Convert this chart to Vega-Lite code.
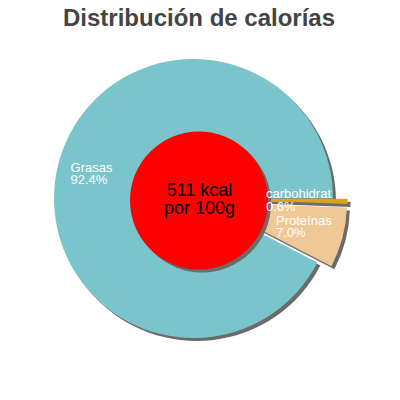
{
  "$schema": "https://vega.github.io/schema/vega-lite/v6.json",
  "width": 387,
  "height": 397,
  "autosize": "none",
  "padding": 0,
  "background": "white",
  "title": {
    "text": "Distribución de calorías",
    "font": "Liberation Sans",
    "fontSize": 24,
    "fontWeight": "bold",
    "color": "#444444",
    "anchor": "middle",
    "baseline": "alphabetic",
    "offset": -25,
    "dx": 5.5,
    "dy": 25
  },
  "config": {"view": {"stroke": null}},
  "layer": [
    {
      "data": {
        "values": [
          {"label": "Grasas", "value": 0.924},
          {"label": "carbohidratos", "value": 0.006},
          {"label": "Proteínas", "value": 0.07}
        ]
      },
      "encoding": {
        "theta": {
          "field": "value",
          "type": "quantitative",
          "stack": true,
          "scale": {"range": [1.5708, 7.854]}
        },
        "order": {"field": "label", "sort": "descending"}
      },
      "layer": [
        {
          "mark": {"type": "arc", "radius": 139.5, "fill": "#6b6b6b", "xOffset": 3, "yOffset": 3},
          "encoding": {
            "fillOpacity": {"condition": {"test": "datum.label === 'Grasas'", "value": 1}, "value": 0}
          }
        },
        {
          "mark": {"type": "arc", "radius": 139.5, "fill": "#6b6b6b", "xOffset": 17.5, "yOffset": 3.3},
          "encoding": {
            "fillOpacity": {"condition": {"test": "datum.label === 'carbohidratos'", "value": 1}, "value": 0}
          }
        },
        {
          "mark": {"type": "arc", "radius": 139.5, "fill": "#6b6b6b", "xOffset": 17, "yOffset": 6.7},
          "encoding": {
            "fillOpacity": {"condition": {"test": "datum.label === 'Proteínas'", "value": 1}, "value": 0}
          }
        },
        {
          "mark": {"type": "arc", "radius": 139.5},
          "encoding": {
            "color": {
              "field": "label",
              "type": "nominal",
              "scale": {"domain": ["Grasas", "Proteínas", "carbohidratos"], "range": ["#7ac4cc", "#f0c896", "#dba21c"]},
              "legend": null
            },
            "fillOpacity": {"condition": {"test": "datum.label === 'Grasas'", "value": 1}, "value": 0}
          }
        },
        {
          "mark": {"type": "arc", "radius": 139.5, "xOffset": 14.5, "yOffset": 0.3},
          "encoding": {
            "color": {"field": "label", "type": "nominal", "legend": null},
            "fillOpacity": {"condition": {"test": "datum.label === 'carbohidratos'", "value": 1}, "value": 0}
          }
        },
        {
          "mark": {"type": "arc", "radius": 139.5, "xOffset": 14, "yOffset": 3.7},
          "encoding": {
            "color": {"field": "label", "type": "nominal", "legend": null},
            "fillOpacity": {"condition": {"test": "datum.label === 'Proteínas'", "value": 1}, "value": 0}
          }
        }
      ]
    },
    {
      "data": {"values": [{"center": "511 kcal\npor 100g"}]},
      "layer": [
        {"mark": {"type": "arc", "radius": 69, "fill": "#6b6b6b", "xOffset": 8.5, "yOffset": 5}},
        {"mark": {"type": "arc", "radius": 69, "fill": "#ff0000", "xOffset": 5.5, "yOffset": 2}}
      ]
    },
    {
      "data": {
        "values": [
          {"label": "Grasas", "value": 0.924},
          {"label": "carbohidratos", "value": 0.006},
          {"label": "Proteínas", "value": 0.07}
        ]
      },
      "encoding": {
        "theta": {"field": "value", "type": "quantitative", "stack": true},
        "order": {"field": "label", "sort": "descending"}
      },
      "layer": [
        {
          "mark": {"type": "text", "radius": 100, "align": "left", "baseline": "alphabetic", "dx": -25.8, "dy": -3.2, "fill": "white", "font": "Liberation Sans", "fontSize": 13},
          "encoding": {"text": {"condition": {"test": "datum.label === 'Grasas'", "field": "label"}, "value": ""}}
        },
        {
          "mark": {"type": "text", "radius": 100, "align": "left", "baseline": "alphabetic", "dx": -25.8, "dy": 9.1, "fill": "white", "font": "Liberation Sans", "fontSize": 13},
          "encoding": {"text": {"condition": {"test": "datum.label === 'Grasas'", "field": "value", "type": "quantitative", "format": ".1%"}, "value": ""}}
        },
        {
          "mark": {"type": "text", "radius": 100, "align": "left", "baseline": "alphabetic", "dx": -27.5, "dy": -2.1, "fill": "white", "font": "Liberation Sans", "fontSize": 13, "limit": 71, "ellipsis": "\u200b"},
          "encoding": {"text": {"condition": {"test": "datum.label === 'carbohidratos'", "field": "label"}, "value": ""}}
        },
        {
          "mark": {"type": "text", "radius": 100, "align": "left", "baseline": "alphabetic", "dx": -27.5, "dy": 10.6, "fill": "white", "font": "Liberation Sans", "fontSize": 13},
          "encoding": {"text": {"condition": {"test": "datum.label === 'carbohidratos'", "field": "value", "type": "quantitative", "format": ".1%"}, "value": ""}}
        },
        {
          "mark": {"type": "text", "radius": 100, "align": "left", "baseline": "alphabetic", "dx": -14.2, "dy": 1, "fill": "white", "font": "Liberation Sans", "fontSize": 13},
          "encoding": {"text": {"condition": {"test": "datum.label === 'Proteínas'", "field": "label"}, "value": ""}}
        },
        {
          "mark": {"type": "text", "radius": 100, "align": "left", "baseline": "alphabetic", "dx": -14.2, "dy": 12.7, "fill": "white", "font": "Liberation Sans", "fontSize": 13},
          "encoding": {"text": {"condition": {"test": "datum.label === 'Proteínas'", "field": "value", "type": "quantitative", "format": ".1%"}, "value": ""}}
        }
      ]
    },
    {
      "data": {"values": [{"center": "511 kcal\npor 100g"}]},
      "mark": {"type": "text", "align": "center", "baseline": "alphabetic", "lineBreak": "\n", "lineHeight": 18, "dx": 6, "dy": -2.5, "fill": "black", "font": "Liberation Sans", "fontSize": 18},
      "encoding": {"text": {"field": "center", "type": "nominal"}}
    }
  ]
}
